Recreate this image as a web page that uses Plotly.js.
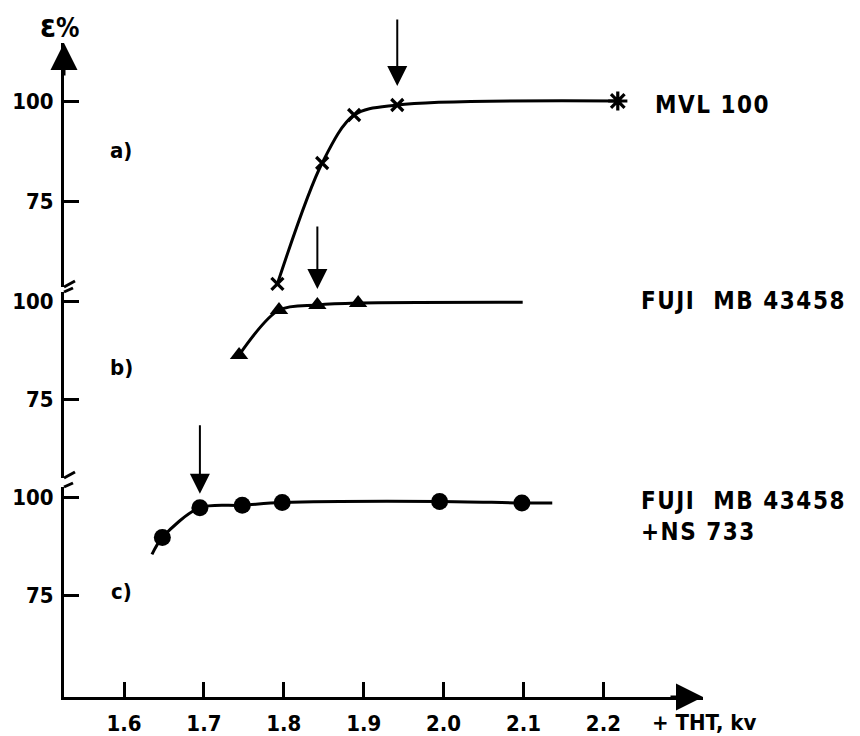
<!DOCTYPE html>
<html>
<head>
<meta charset="utf-8">
<script src="https://cdn.plot.ly/plotly-3.0.1.min.js"></script>
<style>html,body{margin:0;padding:0;background:#fff;}#chart{width:860px;height:736px;}</style>
</head>
<body>
<div id="chart"></div>
<script>
// ---------- data ----------
// x axis: THT voltage, kV
const xTicks = [1.6, 1.7, 1.8, 1.9, 2.0, 2.1, 2.2];
const xTickText = ["1.6", "1.7", "1.8", "1.9", "2.0", "2.1", "2.2"];
const yTicks = [75, 100];
const yTickText = ["75", "100"];

// a) MVL 100
const a_kv  = [1.792, 1.848, 1.888, 1.942, 2.218];
const a_eff = [54.3, 84.5, 96.5, 99.0, 100.0];
const a_sym = ["x-thin-open", "x-thin-open", "x-thin-open", "x-thin-open", "asterisk-open"];

// b) FUJI MB 43458  (measured points, then drawn curve end)
const b_kv  = [1.744, 1.794, 1.842, 1.893];
const b_eff = [86.2, 97.7, 99.0, 99.5];
const b_curve_kv  = [1.744, 1.794, 1.842, 1.893, 2.099];
const b_curve_eff = [86.2, 97.7, 99.0, 99.5, 99.7];

// c) FUJI MB 43458 + NS 733
const c_kv  = [1.648, 1.695, 1.748, 1.798, 1.995, 2.098];
const c_eff = [89.8, 97.4, 98.0, 98.7, 99.0, 98.6];
const c_curve_kv  = [1.635, 1.648, 1.695, 1.748, 1.798, 1.995, 2.098, 2.136];
const c_curve_eff = [85.5, 89.8, 97.4, 98.0, 98.7, 99.0, 98.6, 98.6];

// arrows marking the chosen operating point of each panel
const arrow_kv  = [1.942, 1.842, 1.695];
const arrow_eff = [99.0, 99.0, 97.4];

const panelNames = ["MVL 100", "FUJI  MB 43458", "FUJI  MB 43458<br>+NS 733"];
const panelTags = ["a)", "b)", "c)"];

// ---------- layout geometry ----------
const W = 860, H = 736;
const ML = 64, MR = 157, MT = 43, MB = 39;
const PW = W - ML - MR, PH = H - MT - MB;
const px = p => (p - ML) / PW;          // pixel x -> paper
const py = p => (H - MB - p) / PH;      // pixel y -> paper

const FONT = '"DejaVu Sans Condensed", "Liberation Sans Narrow", "DejaVu Sans", sans-serif';
const font = {family: FONT, size: 22, color: "#000", weight: 700};
const nameFont = {family: FONT, size: 24, color: "#000", weight: 700};

// domains of the three stacked panels (c bottom, b middle, a top)
const domC = [0, py(487)];
const domB = [py(478), py(292)];
const domA = [py(287), 1];

const lineStyle = {color: "#000", width: 3, shape: "spline", smoothing: 0.9};

const traces = [
  {x: a_kv, y: a_eff, xaxis: "x", yaxis: "y3", mode: "lines+markers", cliponaxis: false,
   line: lineStyle,
   marker: {symbol: a_sym, size: [12, 12, 12, 12, 16], color: "#000", opacity: 1,
            line: {color: "#000", width: 3.2}}},
  {x: b_curve_kv, y: b_curve_eff, xaxis: "x", yaxis: "y2", mode: "lines", line: lineStyle},
  {x: b_kv, y: b_eff, xaxis: "x", yaxis: "y2", mode: "markers", cliponaxis: false,
   marker: {symbol: "triangle-up", size: 16, color: "#000", opacity: 1}},
  {x: c_curve_kv, y: c_curve_eff, xaxis: "x", yaxis: "y", mode: "lines", line: lineStyle},
  {x: c_kv, y: c_eff, xaxis: "x", yaxis: "y", mode: "markers", cliponaxis: false,
   marker: {symbol: "circle", size: 17, color: "#000", opacity: 1}}
];

function yax(domain, range) {
  return {
    domain: domain, range: range, anchor: "x",
    showline: true, linecolor: "#000", linewidth: 3,
    showgrid: false, zeroline: false,
    ticks: "inside", ticklen: 15, tickwidth: 3, tickcolor: "#000",
    tickvals: yTicks, ticktext: yTickText, tickfont: font, ticklabelstandoff: 3
  };
}

const annotations = [];
// arrows pointing at the operating points
const refs = ["y3", "y2", "y"];
const tails = [-87, -80, -84];
const stand = [19, 16, 14];
for (let i = 0; i < 3; i++) {
  annotations.push({
    x: arrow_kv[i], y: arrow_eff[i], xref: "x", yref: refs[i], text: "",
    showarrow: true, arrowhead: 2, arrowsize: 2, arrowwidth: 2, arrowcolor: "#000",
    ax: 0, ay: tails[i], standoff: stand[i]
  });
}
// axis arrow heads
annotations.push({x: 0, y: 1, xref: "paper", yref: "paper", text: "", showarrow: true,
  arrowhead: 2, arrowsize: 1.8, arrowwidth: 3, arrowcolor: "#000", ax: 0, ay: 34});
annotations.push({x: 1, y: 0, xref: "paper", yref: "paper", text: "", showarrow: true,
  arrowhead: 2, arrowsize: 1.8, arrowwidth: 3, arrowcolor: "#000", ax: -34, ay: 0});
// axis titles
annotations.push({x: px(59), y: py(26), xref: "paper", yref: "paper", showarrow: false,
  text: '<span style="font-size:32px">ε</span>%', font: {family: FONT, size: 26, weight: 700, color: "#000"},
  xanchor: "center", yanchor: "middle"});
annotations.push({x: px(650), y: py(722), xref: "paper", yref: "paper", showarrow: false,
  text: "+ THT, kv", font: font, xanchor: "left", yanchor: "middle"});
// panel tags
const tagY = [150, 367, 591];
for (let i = 0; i < 3; i++) {
  annotations.push({x: px(121), y: py(tagY[i]), xref: "paper", yref: "paper", showarrow: false,
    text: panelTags[i], font: font, xanchor: "center", yanchor: "middle"});
}
// panel names on the right
const nameX = [653, 639, 639];
const nameY = [105, 301, 516];
for (let i = 0; i < 3; i++) {
  annotations.push({x: px(nameX[i]), y: py(nameY[i]), xref: "paper", yref: "paper", showarrow: false,
    text: '<span style="letter-spacing:1.5px">' + panelNames[i].replace("<br>", '</span><br><span style="letter-spacing:1.5px">') + '</span>',
    font: nameFont, xanchor: "left", yanchor: "middle", align: "left"});
}

// axis break hooks
const shapes = [];
const hook = (x0, y0, x1, y1) => shapes.push({type: "line", xref: "paper", yref: "paper",
  x0: px(x0), y0: py(y0), x1: px(x1), y1: py(y1), line: {color: "#000", width: 3}});
hook(64, 287, 75, 281);
hook(64, 292, 73, 288);
hook(64, 478, 75, 472);
hook(64, 487, 73, 483);

const layout = {
  width: W, height: H,
  margin: {l: ML, r: MR, t: MT, b: MB, pad: 0},
  paper_bgcolor: "#fff", plot_bgcolor: "#fff",
  showlegend: false,
  font: font,
  xaxis: {
    domain: [0, 1], anchor: "y",
    range: [1.6 - 60 / 799, 1.6 + 579 / 799],
    showline: true, linecolor: "#000", linewidth: 3,
    showgrid: false, zeroline: false,
    ticks: "inside", ticklen: 15, tickwidth: 3, tickcolor: "#000",
    tickvals: xTicks, ticktext: xTickText, tickfont: font, ticklabelstandoff: 5
  },
  yaxis:  yax(domC, [100 - 199.5 / 3.92, 100 + 10.5 / 3.92]),
  yaxis2: yax(domB, [100 - 177 / 3.92, 100 + 9 / 3.92]),
  yaxis3: yax(domA, [100 - 186 / 4, 100 + 58 / 4]),
  annotations: annotations,
  shapes: shapes
};

Plotly.newPlot("chart", traces, layout, {displayModeBar: false, staticPlot: true});
</script>
</body>
</html>
